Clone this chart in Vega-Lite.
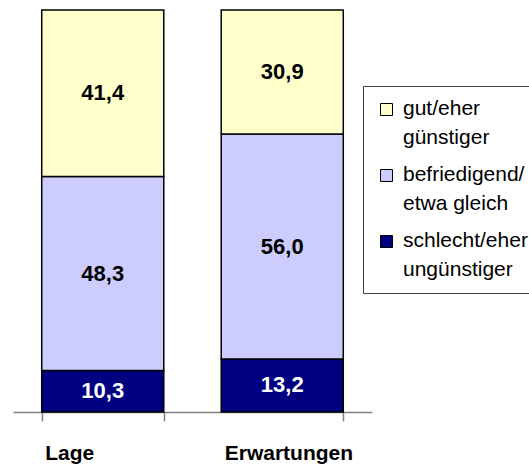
{
  "$schema": "https://vega.github.io/schema/vega-lite/v6.json",
  "autosize": {"type": "none"},
  "width": 359,
  "height": 402,
  "padding": {"left": 13, "top": 10, "right": 157, "bottom": 59},
  "background": "white",
  "config": {
    "view": {"stroke": null},
    "font": "Liberation Sans",
    "style": {"guide-label": {"lineHeight": 29, "dy": 5}},
    "locale": {"number": {"decimal": ",", "thousands": ".", "grouping": [3], "currency": ["", " €"]}}
  },
  "data": {
    "values": [
      {"kat": "Lage", "bewertung": "schlecht/eher\nungünstiger", "k": 1, "wert": 10.3},
      {"kat": "Lage", "bewertung": "befriedigend/\netwa gleich", "k": 2, "wert": 48.3},
      {"kat": "Lage", "bewertung": "gut/eher\ngünstiger", "k": 3, "wert": 41.4},
      {"kat": "Erwartungen", "bewertung": "schlecht/eher\nungünstiger", "k": 1, "wert": 13.2},
      {"kat": "Erwartungen", "bewertung": "befriedigend/\netwa gleich", "k": 2, "wert": 56.0},
      {"kat": "Erwartungen", "bewertung": "gut/eher\ngünstiger", "k": 3, "wert": 30.9}
    ]
  },
  "encoding": {
    "x": {
      "field": "kat", "type": "nominal", "sort": ["Lage", "Erwartungen"],
      "scale": {"paddingInner": 0.32, "paddingOuter": 0.16},
      "axis": {
        "title": null, "labelAngle": 0, "tickBand": "extent",
        "domainColor": "#808080", "tickColor": "#808080", "tickSize": 9, "domainWidth": 1.5, "tickWidth": 1.5,
        "labelFont": "Liberation Sans", "labelFontWeight": "bold", "labelFontSize": 21, "labelColor": "black",
        "labelPadding": 16, "labelAlign": "left", "labelOffset": -58
      }
    },
    "y": {"aggregate": "sum", "field": "wert", "type": "quantitative", "stack": "normalize", "axis": null},
    "order": {"field": "k", "type": "quantitative", "sort": "ascending"}
  },
  "layer": [
    {
      "mark": {"type": "bar", "stroke": "black", "strokeWidth": 1.5},
      "encoding": {
        "color": {
          "field": "bewertung", "type": "nominal",
          "scale": {
            "domain": ["gut/eher\ngünstiger", "befriedigend/\netwa gleich", "schlecht/eher\nungünstiger"],
            "range": ["#FFFFCC", "#CCCCFF", "#000080"]
          },
          "legend": {
            "title": null, "orient": "none", "legendX": 350, "legendY": 76,
            "padding": 13, "strokeColor": "#404040",
            "symbolType": "square", "symbolSize": 144, "symbolStrokeColor": "black", "symbolStrokeWidth": 1,
            "labelExpr": "split(replace(datum.label, '\\n', '     \\n'), '\\n')",
            "labelFont": "Liberation Sans", "labelFontSize": 21, "labelColor": "black",
            "labelLimit": 300, "labelOffset": 6, "labelBaseline": "alphabetic",
            "rowPadding": 15, "symbolOffset": 0
          }
        }
      }
    },
    {
      "mark": {"type": "text", "font": "Liberation Sans", "fontWeight": "bold", "fontSize": 22, "baseline": "middle"},
      "encoding": {
        "y": {"aggregate": "sum", "field": "wert", "type": "quantitative", "stack": "normalize", "bandPosition": 0.5},
        "text": {"aggregate": "sum", "field": "wert", "type": "quantitative", "format": ".1f"},
        "color": {
          "condition": {"test": "datum.k === 1", "value": "white"},
          "value": "black"
        }
      }
    }
  ]
}
